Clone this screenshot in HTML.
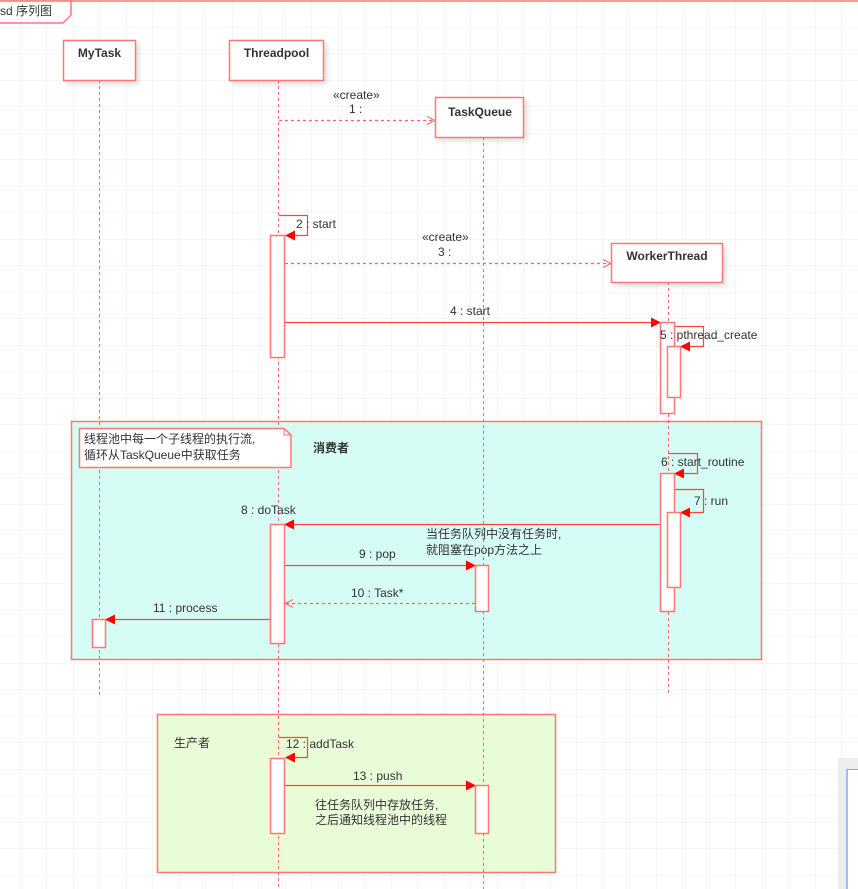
<!DOCTYPE html>
<html><head><meta charset="utf-8"><style>
html,body{margin:0;padding:0;background:#fff;}
svg{display:block;}
text{font-family:"Liberation Sans","Noto Sans CJK SC",sans-serif;fill:#333;font-size:12px;}
</style></head><body>
<svg width="858" height="889" viewBox="0 0 858 889" xmlns="http://www.w3.org/2000/svg">
<defs>
<pattern id="g" x="20" y="0.5" width="26.5" height="26.5" patternUnits="userSpaceOnUse">
<path d="M0 0H26.5M0 0V26.5" stroke="#ebebeb" stroke-width="1" fill="none"/>
</pattern>
<marker id="f" markerWidth="10" markerHeight="10" refX="9" refY="5" orient="auto" markerUnits="userSpaceOnUse"><path d="M0 0L10 5L0 10z" fill="#f00"/></marker>
<marker id="o" markerWidth="10" markerHeight="10" refX="9" refY="5" orient="auto" markerUnits="userSpaceOnUse"><path d="M1 1L9 5L1 9" fill="none" stroke="#f66" stroke-width="1"/></marker>
<filter id="sh"><feDropShadow dx="3" dy="3" stdDeviation="2" flood-color="#000" flood-opacity="0.12"/></filter>
</defs>
<rect width="858" height="889" fill="url(#g)"/>
<!-- frame -->
<line x1="0" y1="1" x2="858" y2="1" stroke="#f77" stroke-width="1.5"/>
<path d="M0 1H71V15L63 23H0" fill="#fff" stroke="#f77" stroke-width="1.5"/>
<text x="0" y="15" font-size="12" fill="#222">sd 序列图</text>

<!-- fragments -->
<rect x="71.5" y="421.5" width="690" height="238" fill="#d6fcf6" stroke="#f77" stroke-width="1.5"/>
<rect x="157.5" y="714.5" width="398" height="158" fill="#e9fcd8" stroke="#f77" stroke-width="1.5"/>

<!-- lifelines -->
<g stroke="#f66" stroke-width="1" stroke-dasharray="3,3">
<line x1="99.5" y1="80" x2="99.5" y2="695"/>
<line x1="278.5" y1="80" x2="278.5" y2="889"/>
<line x1="483.5" y1="137" x2="483.5" y2="889"/>
<line x1="668.5" y1="282" x2="668.5" y2="695"/>
</g>

<!-- heads -->
<g fill="#fff" stroke="#f77" stroke-width="1.5" filter="url(#sh)">
<rect x="63.5" y="40.5" width="72" height="40"/>
<rect x="229.5" y="40.5" width="94" height="40"/>
<rect x="435.5" y="97.5" width="88" height="40"/>
<rect x="611.5" y="243.5" width="111" height="39"/>
</g>
<g font-weight="bold" font-size="12" text-anchor="middle">
<text x="99.5" y="57">MyTask</text>
<text x="276.5" y="57">Threadpool</text>
<text x="480" y="116">TaskQueue</text>
<text x="667" y="260">WorkerThread</text>
</g>

<!-- note -->
<path d="M79.5 428.5H284L291 435V467.5H79.5Z" fill="#fff" stroke="#f77" stroke-width="1.5"/>
<path d="M284 428.5V435H291" fill="none" stroke="#f77"/>
<text x="84" y="443">线程池中每一个子线程的执行流,</text>
<text x="84" y="459">循环从TaskQueue中获取任务</text>
<text x="313" y="452" font-weight="bold">消费者</text>
<text x="174" y="747">生产者</text>

<!-- messages -->
<g fill="none" stroke-width="1.2">
<line x1="279" y1="120.5" x2="435" y2="120.5" stroke="#f66" stroke-dasharray="3,3" marker-end="url(#o)"/>
<path d="M279 215.5H307.5V235.5H286" stroke="#f44" marker-end="url(#f)"/>
<line x1="285" y1="263.5" x2="611" y2="263.5" stroke="#f66" stroke-dasharray="3,3" marker-end="url(#o)"/>
<line x1="285" y1="322.5" x2="660" y2="322.5" stroke="#f44" marker-end="url(#f)"/>
<path d="M674 326.5H703.5V346.5H681" stroke="#f44" marker-end="url(#f)"/>
<path d="M668 453.5H697.5V473.5H675" stroke="#f44" marker-end="url(#f)"/>
<path d="M674 489.5H703.5V512.5H681" stroke="#f44" marker-end="url(#f)"/>
<line x1="660" y1="524.5" x2="285" y2="524.5" stroke="#f44" marker-end="url(#f)"/>
<line x1="285" y1="565.5" x2="475" y2="565.5" stroke="#f44" marker-end="url(#f)"/>
<line x1="475" y1="603.5" x2="285" y2="603.5" stroke="#f66" stroke-dasharray="3,3" marker-end="url(#o)"/>
<line x1="270" y1="619.5" x2="106" y2="619.5" stroke="#f44" marker-end="url(#f)"/>
<path d="M279 737.5H307.5V757.5H286" stroke="#f44" marker-end="url(#f)"/>
<line x1="285" y1="785.5" x2="475" y2="785.5" stroke="#f44" marker-end="url(#f)"/>
</g>

<!-- activations -->
<g fill="#fff" stroke="#f77" stroke-width="1.5">
<rect x="270.5" y="235.5" width="14" height="122"/>
<rect x="660.5" y="322.5" width="14" height="91"/>
<rect x="667.5" y="346.5" width="13" height="51"/>
<rect x="660.5" y="473.5" width="14" height="138"/>
<rect x="667.5" y="512.5" width="13" height="75"/>
<rect x="270.5" y="524.5" width="14" height="119"/>
<rect x="475.5" y="565.5" width="13" height="46"/>
<rect x="92.5" y="619.5" width="13" height="28"/>
<rect x="270.5" y="758.5" width="14" height="75"/>
<rect x="475.5" y="785.5" width="13" height="48"/>
</g>

<!-- labels -->
<g font-size="12">
<text x="333" y="99">«create»</text>
<text x="349" y="113">1 :</text>
<text x="296" y="228">2 : start</text>
<text x="422" y="241">«create»</text>
<text x="438" y="256">3 :</text>
<text x="450" y="315">4 : start</text>
<text x="660" y="339">5 : pthread_create</text>
<text x="661" y="466">6 : start_routine</text>
<text x="694" y="505">7 : run</text>
<text x="241" y="514">8 : doTask</text>
<text x="426" y="538">当任务队列中没有任务时,</text>
<text x="426" y="554">就阻塞在pop方法之上</text>
<text x="359" y="558">9 : pop</text>
<text x="351" y="597">10 : Task*</text>
<text x="153" y="612">11 : process</text>
<text x="286" y="748">12 : addTask</text>
<text x="353" y="780">13 : push</text>
<text x="315" y="809">往任务队列中存放任务,</text>
<text x="315" y="824">之后通知线程池中的线程</text>
</g>

<!-- bottom-right window fragment -->
<rect x="838" y="758" width="20" height="131" fill="#ededed" filter="url(#sh)"/>
<rect x="846" y="769" width="12" height="120" fill="#fff"/>
<line x1="847" y1="769" x2="847" y2="889" stroke="#7aa7ff" stroke-width="1.5"/>
<line x1="847" y1="769.5" x2="858" y2="769.5" stroke="#7aa7ff" stroke-width="1"/>
</svg>
</body></html>
